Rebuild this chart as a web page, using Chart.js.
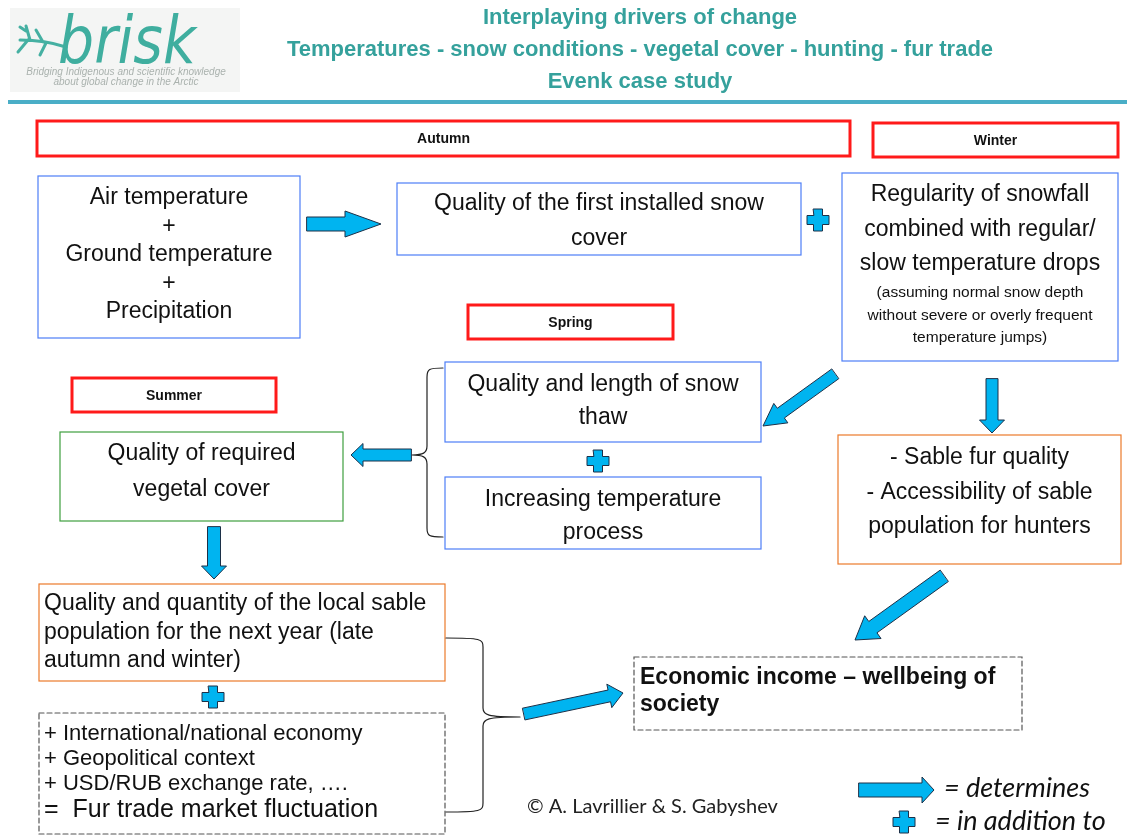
<!DOCTYPE html>
<html>
<head>
<meta charset="utf-8">
<script src="https://cdn.jsdelivr.net/npm/chart.js@4"></script>
<style>
  html, body { margin: 0; padding: 0; background: #fff; }
  #wrap { width: 1127px; height: 836px; }
</style>
</head>
<body>
<div id="wrap"><canvas id="diagram" width="1127" height="836"></canvas></div>
<script>
// ---- diagram content ----
const titleLines = [
  'Interplaying drivers of change',
  'Temperatures - snow conditions - vegetal cover - hunting - fur trade',
  'Evenk case study'
];
const logoWord = 'brisk';
const logoTagline = ['Bridging Indigenous and scientific knowledge', 'about global change in the Arctic'];
const seasons = ['Autumn', 'Winter', 'Spring', 'Summer'];
const nodeNames = ['air', 'snowCover', 'regularity', 'thaw', 'warming', 'vegetal', 'sable', 'population', 'market', 'income'];
const nodeText = [
  ['Air temperature', '+', 'Ground temperature', '+', 'Precipitation'],
  ['Quality of the first installed snow', 'cover'],
  ['Regularity of snowfall', 'combined with regular/', 'slow temperature drops'],
  ['Quality and length of snow', 'thaw'],
  ['Increasing temperature', 'process'],
  ['Quality of required', 'vegetal cover'],
  ['- Sable fur quality', '- Accessibility of sable', 'population for hunters'],
  ['Quality and quantity of the local sable', 'population for the next year (late', 'autumn and winter)'],
  ['+ International/national economy', '+ Geopolitical context', '+ USD/RUB exchange rate, \u2026.', '=  Fur trade market fluctuation'],
  ['Economic income \u2013 wellbeing of', 'society']
];
const regularityNote = ['(assuming normal snow depth', 'without severe or overly frequent', 'temperature jumps)'];
// "determines" links (from -> to)
const links = [
  ['air', 'snowCover'], ['regularity', 'thaw'], ['regularity', 'sable'], ['thaw', 'vegetal'],
  ['vegetal', 'population'], ['sable', 'income'], ['population', 'income']
];
// "in addition to" pairs
const additions = [['snowCover', 'regularity'], ['thaw', 'warming'], ['population', 'market']];
const legendItems = ['= determines', '= in addition to'];
const credit = '\u00a9 A. Lavrillier & S. Gabyshev';

// ---- layout (diagram units = page pixels, y downwards) ----
const seasonRect = [[37, 121, 813, 35], [873, 123, 245, 34], [468, 305, 205, 34], [72, 378, 204, 34]];
const nodeRect = [
  [38, 176, 262, 162], [397, 183, 404, 72], [842, 173, 276, 188], [445, 362, 316, 80], [445, 477, 316, 72],
  [60, 432, 283, 89], [838, 435, 283, 129], [39, 584, 406, 97], [39, 713, 406, 121], [634, 657, 388, 73]
];
// first line centre y, line step, text anchor x (null = centred), font size
const nodeTextPos = [
  [198, 28.5, null, 23], [204, 35, null, 23], [195, 34.5, null, 23], [385, 33, null, 23], [500, 33, null, 23],
  [454, 36, null, 23], [458, 34.5, null, 23], [604, 28.5, 44, 23], [734, 25, 44, 22], [678, 27, 640, 23]
];
const noteTextPos = [293, 22.5, 15.5];
const arrowPath = [
  [307, 224, 381, 224], [835, 374, 763, 426], [992, 379, 992, 433], [411, 455, 351, 455],
  [214, 527, 214, 579], [944, 576, 855, 640], [524, 714, 623, 693]
];
const arrowSize = [
  [7, 36, 13], [6, 22, 12], [6, 13, 12.5], [6, 12, 11.5], [6.5, 13, 12.5], [7, 22, 14], [6, 14, 12]
];
const plusPos = [[818, 220], [598, 461], [213, 697]];
const bracketPath = [
  // edge x, top y, bottom y, spine x, tip x, tip y
  [443, 368, 537, 427, 412, 455],
  [446, 638, 812, 483, 520, 717]
];
const legendArrow = [859, 790, 934, 790];
const legendPlus = [904, 822];
const legendTextPos = [[944, 788], [935, 821]];

const COLORS = {
  title: '#35a19c', rule: '#4aaec7', red: '#ff1a1a', blue: '#4d7ef7', green: '#3f9f3f',
  orange: '#ec7a2a', dash: '#555555', arrow: '#00b4f0', arrowEdge: '#1c3048', text: '#111111'
};
const nodeBorder = ['blue', 'blue', 'blue', 'blue', 'blue', 'green', 'orange', 'orange', 'dash', 'dash'];

// ---- drawing helpers ----
function blockArrow(ctx, sx, sy, x1, y1, x2, y2, sw, hl, hw) {
  const p1 = [sx(x1), sy(y1)], p2 = [sx(x2), sy(y2)];
  const dx = p2[0] - p1[0], dy = p2[1] - p1[1], L = Math.hypot(dx, dy);
  const ux = dx / L, uy = dy / L, nx = -uy, ny = ux;
  const bx = p2[0] - ux * hl, by = p2[1] - uy * hl;
  ctx.beginPath();
  ctx.moveTo(p1[0] + nx * sw, p1[1] + ny * sw);
  ctx.lineTo(bx + nx * sw, by + ny * sw);
  ctx.lineTo(bx + nx * hw, by + ny * hw);
  ctx.lineTo(p2[0], p2[1]);
  ctx.lineTo(bx - nx * hw, by - ny * hw);
  ctx.lineTo(bx - nx * sw, by - ny * sw);
  ctx.lineTo(p1[0] - nx * sw, p1[1] - ny * sw);
  ctx.closePath();
  ctx.fillStyle = COLORS.arrow;
  ctx.fill();
  ctx.lineWidth = 1;
  ctx.strokeStyle = COLORS.arrowEdge;
  ctx.stroke();
}

function plusSign(ctx, cx, cy) {
  const s = 11, t = 4.5;
  ctx.beginPath();
  ctx.moveTo(cx - t, cy - s); ctx.lineTo(cx + t, cy - s); ctx.lineTo(cx + t, cy - t);
  ctx.lineTo(cx + s, cy - t); ctx.lineTo(cx + s, cy + t); ctx.lineTo(cx + t, cy + t);
  ctx.lineTo(cx + t, cy + s); ctx.lineTo(cx - t, cy + s); ctx.lineTo(cx - t, cy + t);
  ctx.lineTo(cx - s, cy + t); ctx.lineTo(cx - s, cy - t); ctx.lineTo(cx - t, cy - t);
  ctx.closePath();
  ctx.fillStyle = COLORS.arrow;
  ctx.fill();
  ctx.lineWidth = 1;
  ctx.strokeStyle = COLORS.arrowEdge;
  ctx.stroke();
}

function bracket(ctx, ex, yt, yb, spx, tx, ty) {
  const d = Math.sign(tx - spx), r = 9;
  ctx.beginPath();
  ctx.moveTo(ex, yt);
  ctx.bezierCurveTo(spx - d * 2, yt, spx, yt + 1, spx, yt + r);
  ctx.lineTo(spx, ty - r);
  ctx.bezierCurveTo(spx, ty - 2, spx + d * 4, ty, tx, ty);
  ctx.moveTo(tx, ty);
  ctx.bezierCurveTo(spx + d * 4, ty, spx, ty + 2, spx, ty + r);
  ctx.lineTo(spx, yb - r);
  ctx.bezierCurveTo(spx, yb - 1, spx - d * 2, yb, ex, yb);
  ctx.lineWidth = 1.2;
  ctx.strokeStyle = '#222';
  ctx.stroke();
}

const diagramPlugin = {
  id: 'diagram',
  afterDatasetsDraw(chart) {
    const ctx = chart.ctx;
    const sx = v => chart.scales.x.getPixelForValue(v);
    const sy = v => chart.scales.y.getPixelForValue(v);
    const rect = r => [sx(r[0]), sy(r[1]), sx(r[0] + r[2]) - sx(r[0]), sy(r[1] + r[3]) - sy(r[1])];
    ctx.save();

    // logo
    ctx.fillStyle = '#f4f5f4';
    ctx.fillRect(sx(10), sy(8), sx(240) - sx(10), sy(92) - sy(8));
    ctx.strokeStyle = '#45b0a2';
    ctx.lineWidth = 3;
    ctx.lineCap = 'round';
    ctx.beginPath();
    ctx.moveTo(sx(20), sy(40)); ctx.quadraticCurveTo(sx(45), sy(40), sx(66), sy(47));
    ctx.moveTo(sx(30), sy(40)); ctx.lineTo(sx(26), sy(26));
    ctx.moveTo(sx(26), sy(31)); ctx.lineTo(sx(20), sy(27));
    ctx.moveTo(sx(43), sy(42)); ctx.lineTo(sx(36), sy(30));
    ctx.moveTo(sx(28), sy(40)); ctx.lineTo(sx(18), sy(52));
    ctx.moveTo(sx(46), sy(43)); ctx.lineTo(sx(40), sy(55));
    ctx.stroke();
    ctx.fillStyle = '#3fae9f';
    ctx.font = 'italic 66px "DejaVu Sans", "Liberation Sans", sans-serif';
    ctx.textAlign = 'left';
    ctx.textBaseline = 'alphabetic';
    const lw = ctx.measureText(logoWord).width;
    ctx.save();
    ctx.translate(sx(58), sy(63));
    ctx.scale(138 / lw, 1);
    ctx.fillText(logoWord, 0, 0);
    ctx.restore();
    ctx.fillStyle = '#aab2ae';
    ctx.font = 'italic 10px "Liberation Sans", Arial, sans-serif';
    ctx.textAlign = 'center';
    logoTagline.forEach((t, i) => ctx.fillText(t, sx(126), sy(75 + i * 10)));

    // titles
    ctx.fillStyle = COLORS.title;
    ctx.textAlign = 'center';
    ctx.textBaseline = 'middle';
    ctx.font = 'bold 20px "Liberation Sans Narrow", "Liberation Sans", Arial, sans-serif';
    const w = ctx.measureText(titleLines[1]).width;
    const tSize = 20 * (706 / w);
    ctx.font = 'bold ' + tSize.toFixed(1) + 'px "Liberation Sans Narrow", "Liberation Sans", Arial, sans-serif';
    titleLines.forEach((t, i) => ctx.fillText(t, sx(640), sy(18 + i * 32)));
    ctx.fillStyle = COLORS.rule;
    ctx.fillRect(sx(8), sy(100), sx(1127) - sx(8), 4);

    // season labels
    seasons.forEach((s, i) => {
      const [x, y, w2, h] = rect(seasonRect[i]);
      ctx.lineWidth = 3;
      ctx.strokeStyle = COLORS.red;
      ctx.strokeRect(x, y, w2, h);
      ctx.fillStyle = COLORS.text;
      ctx.font = 'bold 14px "Liberation Sans", Arial, sans-serif';
      ctx.textAlign = 'center';
      ctx.fillText(s, x + w2 / 2, y + h / 2 + 1);
    });

    // nodes
    nodeNames.forEach((n, i) => {
      const [x, y, w2, h] = rect(nodeRect[i]);
      const style = nodeBorder[i];
      ctx.lineWidth = 1.2;
      ctx.strokeStyle = COLORS[style];
      ctx.setLineDash(style === 'dash' ? [5, 3] : []);
      ctx.strokeRect(x, y, w2, h);
      ctx.setLineDash([]);
      const [fy, step, ax, size] = nodeTextPos[i];
      const bold = n === 'income' ? 'bold ' : '';
      ctx.fillStyle = COLORS.text;
      ctx.textAlign = ax === null ? 'center' : 'left';
      const tx = ax === null ? x + w2 / 2 : sx(ax);
      nodeText[i].forEach((t, j) => {
        let fs = size;
        if (n === 'market' && j === 3) fs = 25;
        ctx.font = bold + fs + 'px "Liberation Sans", Arial, sans-serif';
        const yy = (n === 'market' && j === 3) ? fy + 76 : fy + j * step;
        ctx.fillText(t, tx, sy(yy));
      });
      if (n === 'regularity') {
        ctx.font = noteTextPos[2] + 'px "Liberation Sans", Arial, sans-serif';
        regularityNote.forEach((t, j) => ctx.fillText(t, tx, sy(noteTextPos[0] + j * noteTextPos[1])));
      }
    });

    // brackets
    bracketPath.forEach(b => bracket(ctx, sx(b[0]), sy(b[1]), sy(b[2]), sx(b[3]), sx(b[4]), sy(b[5])));

    // arrows
    links.forEach((l, i) => {
      const p = arrowPath[i], s = arrowSize[i];
      blockArrow(ctx, sx, sy, p[0], p[1], p[2], p[3], s[0], s[1], s[2]);
    });
    additions.forEach((a, i) => plusSign(ctx, sx(plusPos[i][0]), sy(plusPos[i][1])));

    // legend
    blockArrow(ctx, sx, sy, legendArrow[0], legendArrow[1], legendArrow[2], legendArrow[3], 7, 12, 13);
    plusSign(ctx, sx(legendPlus[0]), sy(legendPlus[1]));
    ctx.fillStyle = COLORS.text;
    ctx.textAlign = 'left';
    ctx.font = 'italic 27px Lato, "Open Sans", sans-serif';
    legendItems.forEach((t, i) => ctx.fillText(t, sx(legendTextPos[i][0]), sy(legendTextPos[i][1])));

    ctx.font = '20px Lato, "Open Sans", sans-serif';
    ctx.fillStyle = '#222';
    ctx.fillText(credit, sx(527), sy(807));

    ctx.restore();
  }
};

const centres = nodeRect.map(r => ({ x: r[0] + r[2] / 2, y: r[1] + r[3] / 2 }));

new Chart(document.getElementById('diagram'), {
  type: 'scatter',
  data: { datasets: [{ label: 'nodes', data: centres, pointRadius: 0 }] },
  options: {
    responsive: false,
    animation: false,
    layout: { padding: 0 },
    plugins: { legend: { display: false }, tooltip: { enabled: false } },
    scales: {
      x: { type: 'linear', min: 0, max: 1127, display: false },
      y: { type: 'linear', min: 0, max: 836, reverse: true, display: false }
    }
  },
  plugins: [diagramPlugin]
});
</script>
</body>
</html>
